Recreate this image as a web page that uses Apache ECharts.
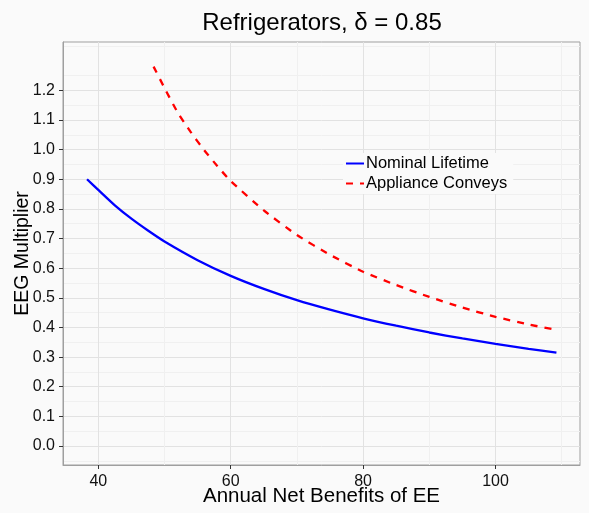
<!DOCTYPE html>
<html>
<head>
<meta charset="utf-8">
<script src="https://cdn.jsdelivr.net/npm/echarts@6/dist/echarts.min.js"></script>
<style>
html,body{margin:0;padding:0;background:#fafafa;}
#chart{width:589px;height:513px;}
</style>
</head>
<body>
<div id="chart"></div>
<script>
// Data
const titleText = 'Refrigerators, \u03B4 = 0.85';
const xTitle = 'Annual Net Benefits of EE';
const yTitle = 'EEG Multiplier';
const seriesNames = ['Nominal Lifetime', 'Appliance Conveys'];

const nominalX = [38.3, 40, 42.5, 45, 47.5, 50, 55, 60, 65, 70, 75, 80, 85, 90, 95, 100, 105, 109.2];
const nominalY = [0.900, 0.864, 0.812, 0.767, 0.727, 0.690, 0.627, 0.574, 0.530, 0.492, 0.460, 0.431, 0.406, 0.383, 0.363, 0.345, 0.328, 0.315];

const conveysX = [48.35, 50, 52, 54, 56, 58, 60, 65, 70, 75, 80, 85, 90, 95, 100, 105, 109.2];
const conveysY = [1.280, 1.208, 1.125, 1.058, 0.998, 0.944, 0.894, 0.795, 0.712, 0.645, 0.588, 0.543, 0.503, 0.467, 0.436, 0.410, 0.392];

const xTickLabels = [40, 60, 80, 100];
const yTickLabels = [0, 0.1, 0.2, 0.3, 0.4, 0.5, 0.6, 0.7, 0.8, 0.9, 1.0, 1.1, 1.2];

const pairs = (xs, ys) => xs.map((x, i) => [x, ys[i]]);

const font = 'Liberation Sans, Arial, Helvetica, sans-serif';
const chart = echarts.init(document.getElementById('chart'), null, {renderer: 'canvas'});
chart.setOption({
  backgroundColor: '#fafafa',
  animation: false,
  title: {
    text: titleText,
    left: 317, top: 6, textAlign: 'center',
    textStyle: {fontFamily: font, fontSize: 24, fontWeight: 'normal', color: '#000'}
  },
  legend: {
    orient: 'vertical',
    left: 343, top: 153,
    itemWidth: 18, itemHeight: 14, itemGap: 3,
    padding: [2, 6, 2, 2],
    backgroundColor: '#fafafa',
    data: seriesNames,
    itemStyle: {color: 'transparent', borderWidth: 0, opacity: 0},
    textStyle: {fontFamily: font, fontSize: 16.5, color: '#000', padding: [0, 0, 0, -3]}
  },
  grid: {
    left: 63, right: 9, top: 42, bottom: 48,
    containLabel: false, outerBoundsMode: 'none',
    show: true, borderColor: '#9f9f9f', borderWidth: 1, backgroundColor: '#fafafa'
  },
  xAxis: {
    type: 'value', min: 34.67, max: 112.76, splitNumber: 4,
    name: xTitle, nameLocation: 'middle', nameGap: 21, nameMoveOverlap: false,
    nameTextStyle: {fontFamily: font, fontSize: 20.5, color: '#000'},
    axisLine: {show: true, onZero: false, lineStyle: {color: '#9f9f9f'}},
    axisTick: {show: true, length: 4, customValues: xTickLabels, lineStyle: {color: '#333'}},
    axisLabel: {customValues: xTickLabels, margin: 9, fontFamily: font, fontSize: 16, color: '#111'},
    splitLine: {show: true, lineStyle: {color: '#e2e2e2', width: 1}},
    minorTick: {show: false, splitNumber: 2},
    minorSplitLine: {show: true, lineStyle: {color: '#f0f0f0', width: 1}}
  },
  yAxis: {
    type: 'value', min: -0.064, max: 1.363, splitNumber: 14,
    name: yTitle, nameLocation: 'middle', nameGap: 30, nameRotate: 90, nameMoveOverlap: false,
    nameTextStyle: {fontFamily: font, fontSize: 19.5, color: '#000'},
    axisLine: {show: true, onZero: false, lineStyle: {color: '#9f9f9f'}},
    axisTick: {show: true, length: 4, customValues: yTickLabels, lineStyle: {color: '#333'}},
    axisLabel: {customValues: yTickLabels, margin: 8, fontFamily: font, fontSize: 16, color: '#111',
      formatter: v => v.toFixed(1)},
    splitLine: {show: true, lineStyle: {color: '#e2e2e2', width: 1}},
    minorTick: {show: false, splitNumber: 2},
    minorSplitLine: {show: true, lineStyle: {color: '#f0f0f0', width: 1}}
  },
  series: [
    {
      name: seriesNames[0], type: 'line', smooth: 0.2,
      symbol: 'none', showSymbol: false,
      data: pairs(nominalX, nominalY),
      lineStyle: {color: '#0000ff', width: 2.3},
      itemStyle: {color: '#0000ff'}
    },
    {
      name: seriesNames[1], type: 'line', smooth: 0.2,
      symbol: 'none', showSymbol: false,
      data: pairs(conveysX, conveysY),
      lineStyle: {color: '#ff0000', width: 2.3, type: [7, 7]},
      itemStyle: {color: '#ff0000'}
    }
  ]
});
</script>
</body>
</html>
